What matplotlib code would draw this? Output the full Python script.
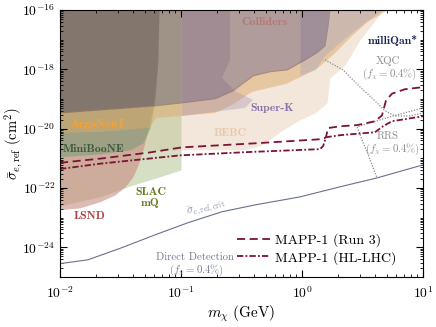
import matplotlib
matplotlib.use("Agg")
import matplotlib.pyplot as plt
import numpy as np
from matplotlib.ticker import FixedLocator, LogLocator, NullFormatter, LogFormatterSciNotation

plt.rcParams["font.family"] = "serif"
plt.rcParams["font.serif"] = ["cmr10", "DejaVu Serif"]
plt.rcParams["mathtext.fontset"] = "cm"
plt.rcParams["axes.formatter.use_mathtext"] = True

# ── data: log10(m / GeV) and log10(sigma / cm^2) ─────────────────────────────
bebc_logm = [-2.0, -0.992, -0.471, -0.331, -0.182, -0.017, 0.107, 0.207, 0.231, 0.355, 0.479, 0.620, 0.669]
bebc_logs = [-20.78, -20.71, -20.71, -20.55, -20.11, -19.70, -19.47, -19.13, -18.29, -17.85, -17.01, -16.27, -16.0]

slac_logm = [-2.0, -1.669, -1.421, -1.174, -1.0]
slac_logs = [-22.60, -22.30, -21.93, -21.62, -21.39]

lsnd_logm = [-2.0, -1.835, -1.669, -1.545, -1.463, -1.397, -1.355, -1.314, -1.273, -1.231, -1.198, -1.182]
lsnd_logs = [-22.73, -22.67, -22.46, -22.23, -21.96, -21.62, -21.22, -20.71, -20.04, -19.20, -18.02, -16.0]

mini_logm = [-2.0, -1.669, -1.421, -1.314, -1.256, -1.215, -1.190, -1.182]
mini_logs = [-20.95, -20.85, -20.71, -20.48, -19.97, -19.03, -17.68, -16.0]

argo_lo_logm = [-2.0, -1.669, -1.256, -1.207, -0.992, -0.719, -0.579, -0.413, -0.132, 0.008, 0.132, 0.256, 0.421, 0.545, 0.711]
argo_lo_logs = [-20.14, -20.11, -19.97, -19.64, -19.57, -19.47, -19.20, -18.76, -18.49, -18.22, -17.95, -17.52, -16.84, -16.40, -16.0]
argo_up_logm = [-2.0, -1.215, -0.992, -0.719, -0.570, -0.405, -0.264, -0.124, 0.025, 0.124, 0.190, 0.215, 0.231]
argo_up_logs = [-19.45, -19.21, -19.11, -18.97, -18.70, -18.19, -18.06, -17.99, -17.65, -17.41, -17.18, -16.51, -16.0]

superk_logm = [-0.992, -0.595, -0.595, -0.661, -0.554, -0.405, -0.471, -0.719, -0.992]
superk_logs = [-16.0, -16.0, -17.68, -18.29, -18.73, -19.03, -19.30, -19.43, -19.57]

mqan_logm = [-0.017, 0.107, 0.190, 0.355, 0.521, 0.661]
mqan_logs = [-18.19, -18.02, -17.52, -16.94, -16.40, -16.0]

coll_logm = [-2.0, -1.215, -0.992, -0.719, -0.570, -0.405, -0.264, -0.124, 0.025, 0.124, 0.190, 0.215, 0.231]
coll_logs = [-19.47, -19.23, -19.13, -18.99, -18.72, -18.22, -18.08, -18.02, -17.68, -17.43, -17.20, -16.54, -16.0]

run3_logm = [-2.0, -1.669, -1.256, -0.992, -0.372, 0.174, 0.198, 0.215, 0.314, 0.455, 0.603, 0.661, 0.694, 0.744, 0.851, 1.0]
run3_logs = [-21.15, -21.01, -20.80, -20.63, -20.49, -20.35, -20.29, -19.98, -19.92, -19.88, -19.75, -19.55, -19.05, -18.82, -18.67, -18.60]

hllhc_logm = [-2.0, -1.669, -1.008, -0.455, 0.149, 0.174, 0.198, 0.314, 0.603, 0.669, 0.744, 1.0]
hllhc_logs = [-21.36, -21.18, -20.90, -20.79, -20.69, -20.59, -20.29, -20.22, -20.12, -19.92, -19.75, -19.58]

dd_logm = [-2.0, -1.769, -1.488, -1.215, -0.942, -0.661, -0.388, -0.017, 0.314, 0.620, 1.0]
dd_logs = [-24.55, -24.42, -24.01, -23.58, -23.17, -22.80, -22.57, -22.30, -21.96, -21.66, -21.22]

xqc_logm = [0.190, 0.339, 0.479, 0.620, 0.686, 0.769, 0.893, 1.0]
xqc_logs = [-17.68, -18.02, -18.59, -19.13, -19.40, -19.57, -19.57, -19.47]

rrs_logm = [1.0, 0.727, 0.455, 0.496, 0.537, 0.579, 0.620]
rrs_logs = [-19.30, -19.60, -19.94, -20.38, -20.78, -21.22, -21.66]

TOP = 1e-16


def p(v):
    return 10.0 ** np.asarray(v)


fig = plt.figure(figsize=(4.36, 3.27), dpi=100)
ax = fig.add_axes([0.1376, 0.1529, 0.8326, 0.8165])

# ── shaded exclusion regions ────────────────────────────────────────────────
ax.fill_between(p(bebc_logm), p(bebc_logs), TOP, color="#efdccb", alpha=0.7, lw=0)
ax.fill_between(p(slac_logm), p(slac_logs), TOP, color="#bcc89b", alpha=0.6, lw=0)
ax.fill_between(p(lsnd_logm), p(lsnd_logs), TOP, color="#c88c82", alpha=0.6, lw=0)
ax.fill_between(p(mini_logm), p(mini_logs), TOP, color="#719972", alpha=0.5, lw=0)
argo_x = np.concatenate([p(argo_lo_logm), p(argo_up_logm)[::-1]])
argo_y = np.concatenate([p(argo_lo_logs), p(argo_up_logs)[::-1]])
ax.fill(argo_x, argo_y, color="#dcaa6a", alpha=0.5, lw=0)
ax.fill(p(superk_logm), p(superk_logs), color="#9682aa", alpha=0.3, lw=0)
ax.fill_between(p(mqan_logm), p(mqan_logs), TOP, color="#9096c8", alpha=0.3, lw=0)
ax.fill_between(p(coll_logm), p(coll_logs), TOP, color="#664a55", alpha=0.47, lw=0)

# ── lines ───────────────────────────────────────────────────────────────────
ax.plot(p(dd_logm), p(dd_logs), color="#6a7090", lw=0.8)
ax.plot(p(xqc_logm), p(xqc_logs), color="#8a8a96", lw=0.9, ls=(0, (1, 1.2)))
ax.plot(p(rrs_logm), p(rrs_logs), color="#8a8a96", lw=0.9, ls=(0, (1, 1.2)))
ax.plot(p(run3_logm), p(run3_logs), color="#7b1437", lw=1.3, ls=(0, (4.5, 2.5)),
        label="MAPP-1 (Run 3)")
ax.plot(p(hllhc_logm), p(hllhc_logs), color="#7b1437", lw=1.3, ls=(0, (3.5, 1.2, 1, 1.2)),
        label="MAPP-1 (HL-LHC)")

# ── labels ──────────────────────────────────────────────────────────────────
bold = dict(family="cmb10", fontsize=8.5, ha="center", va="center")
ax.text(0.494, 10**-16.40, "Colliders", color="#b07a72", **bold)
ax.text(5.65, 10**-17.04, "milliQan*", color="#1c2858", **bold)
ax.text(0.565, 10**-19.30, "Super-K", color="#8a72aa", **bold)
ax.text(0.254, 10**-20.14, "BEBC", color="#e6c9ad", **bold)
ax.text(0.0206, 10**-19.84, "ArgoNeuT", color="#f7a233", **bold)
ax.text(0.0188, 10**-20.68, "MiniBooNE", color="#3c5a40", **bold)
ax.text(0.0174, 10**-22.94, "LSND", color="#b04444", **bold)
ax.text(0.0565, 10**-22.13, "SLAC", color="#6b7a22", **bold)
ax.text(0.0556, 10**-22.50, "mQ", color="#6b7a22", **bold)

reg = dict(fontsize=7.8, ha="center", va="center")
ax.text(5.14, 10**-17.72, "XQC", color="#8c8c8c", **reg)
ax.text(5.33, 10**-18.16, r"$(f_\chi = 0.4\%)$", color="#8c8c8c", **reg)
ax.text(5.14, 10**-20.24, "RRS", color="#8c8c8c", **reg)
ax.text(5.65, 10**-20.70, r"$(f_\chi = 0.4\%)$", color="#8c8c8c", **reg)
ax.text(0.1306, 10**-24.33, "Direct Detection", color="#767c94", **reg)
ax.text(0.1355, 10**-24.76, r"$(f_\chi = 0.4\%)$", color="#767c94", **reg)
ax.text(0.16, 10**-22.68, r"$\bar{\sigma}_{e,\mathrm{ref,crit}}$", color="#8a90a4",
        fontsize=8, ha="center", va="center", rotation=15)

# ── axes ────────────────────────────────────────────────────────────────────
ax.set_xscale("log")
ax.set_yscale("log")
ax.set_xlim(1e-2, 1e1)
ax.set_ylim(1e-25, 1e-16)

ax.yaxis.set_major_locator(FixedLocator([1e-24, 1e-22, 1e-20, 1e-18, 1e-16]))
ax.yaxis.set_major_formatter(LogFormatterSciNotation())
ax.yaxis.set_minor_locator(LogLocator(base=10, subs=np.arange(1, 10), numticks=40))
ax.yaxis.set_minor_formatter(NullFormatter())
ax.xaxis.set_minor_locator(LogLocator(base=10, subs=np.arange(2, 10), numticks=40))
ax.xaxis.set_minor_formatter(NullFormatter())

ax.tick_params(which="both", direction="in", top=True, right=True, labelsize=9.8)
ax.tick_params(which="major", length=5, width=0.8)
ax.tick_params(which="minor", length=2.5, width=0.6)
ax.tick_params(axis="x", pad=6)

ax.set_xlabel(r"$m_\chi\ (\mathrm{GeV})$", fontsize=11, labelpad=2)
ax.set_ylabel(r"$\bar{\sigma}_{e,\mathrm{ref}}\ (\mathrm{cm}^2)$", fontsize=10.5)
ax.yaxis.set_label_coords(-0.1, 0.5)

ax.legend(loc="lower right", bbox_to_anchor=(0.96, 0.0), frameon=False, fontsize=10,
          handlelength=2.4, handletextpad=0.3, labelspacing=0.25)

fig.savefig("out.png", dpi=100)
